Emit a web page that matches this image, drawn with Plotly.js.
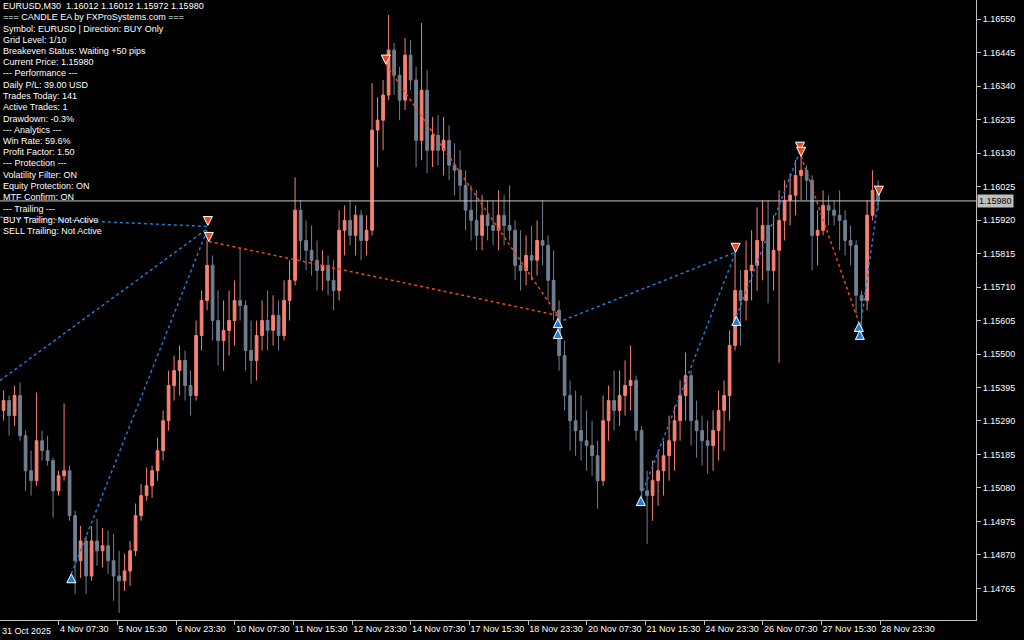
<!DOCTYPE html>
<html>
<head>
<meta charset="utf-8">
<script src="https://cdn.plot.ly/plotly-3.0.1.min.js"></script>
<style>html,body{margin:0;padding:0;background:#000;}#chart{width:1024px;height:640px;}</style>
</head>
<body>
<div id="chart"></div>
<script>
// ---- Candle data (each candle = 3 hours of EURUSD M30 bars) ----
const openP = [1.15323,1.15354,1.15307,1.15370,1.15244,1.15134,1.15103,1.15228,1.15197,1.15166,
1.15071,1.15118,1.15134,1.14993,1.14852,1.14914,1.14804,1.14914,1.14883,1.14899,
1.14852,1.14804,1.14789,1.14820,1.14883,1.14993,1.15056,1.15087,1.15134,1.15197,
1.15291,1.15401,1.15448,1.15480,1.15401,1.15370,1.15558,1.15668,1.15778,1.15605,
1.15542,1.15574,1.15605,1.15668,1.15652,1.15511,1.15480,1.15558,1.15605,1.15574,
1.15621,1.15558,1.15668,1.15731,1.15951,1.15856,1.15825,1.15794,1.15762,1.15778,
1.15731,1.15699,1.15888,1.15919,1.15872,1.15935,1.15856,1.15888,1.16202,1.16233,
1.16312,1.16453,1.16374,1.16296,1.16437,1.16359,1.16170,1.16327,1.16139,1.16186,
1.16139,1.16170,1.16092,1.16076,1.16029,1.15951,1.15919,1.15872,1.15935,1.15903,
1.15888,1.15935,1.15903,1.15888,1.15778,1.15762,1.15809,1.15794,1.15856,1.15841,
1.15731,1.15637,1.15495,1.15370,1.15291,1.15260,1.15228,1.15213,1.15181,1.15103,
1.15291,1.15354,1.15323,1.15370,1.15401,1.15417,1.15260,1.15071,1.15056,1.15103,
1.15134,1.15181,1.15228,1.15291,1.15370,1.15432,1.15291,1.15260,1.15228,1.15213,
1.15260,1.15323,1.15370,1.15527,1.15699,1.15668,1.15762,1.15778,1.15856,1.15903,
1.15762,1.15825,1.15919,1.15982,1.15998,1.16060,1.16076,1.16045,1.15872,1.15888,
1.15966,1.15951,1.15935,1.15919,1.15856,1.15841,1.15684,1.15668,1.15935,1.16013];
const highP = [1.15385,1.15370,1.15401,1.15411,1.15260,1.15197,1.15379,1.15260,1.15244,1.15175,
1.15134,1.15345,1.15150,1.15009,1.14961,1.14930,1.14961,1.14983,1.14955,1.14946,
1.14936,1.14883,1.14874,1.14914,1.15031,1.15093,1.15144,1.15150,1.15238,1.15323,
1.15448,1.15495,1.15527,1.15511,1.15448,1.15605,1.15699,1.15856,1.15809,1.15699,
1.15668,1.15699,1.15731,1.15831,1.15668,1.15605,1.15605,1.15668,1.15699,1.15684,
1.15668,1.15731,1.15794,1.16054,1.15982,1.15919,1.15903,1.15856,1.15825,1.15809,
1.15794,1.15951,1.15966,1.15982,1.15966,1.15951,1.15935,1.16349,1.16305,1.16359,
1.16563,1.16475,1.16400,1.16491,1.16484,1.16400,1.16538,1.16390,1.16243,1.16249,
1.16243,1.16217,1.16161,1.16139,1.16076,1.16029,1.16013,1.15998,1.15982,1.15982,
1.16013,1.15998,1.16029,1.15919,1.15888,1.15872,1.15903,1.15919,1.15982,1.15872,
1.15825,1.15668,1.15542,1.15417,1.15385,1.15370,1.15323,1.15291,1.15228,1.15370,
1.15401,1.15448,1.15448,1.15480,1.15527,1.15432,1.15275,1.15134,1.15166,1.15197,
1.15228,1.15307,1.15338,1.15417,1.15505,1.15448,1.15354,1.15307,1.15291,1.15323,
1.15385,1.15417,1.15574,1.15825,1.15762,1.15856,1.15888,1.15960,1.15982,1.15982,
1.15935,1.16013,1.16045,1.16067,1.16108,1.16139,1.16092,1.16060,1.15951,1.16013,
1.15998,1.15982,1.16013,1.15951,1.15903,1.15856,1.15699,1.15982,1.16076,1.16045];
const lowP = [1.15291,1.15244,1.15275,1.15228,1.15071,1.15056,1.15087,1.15166,1.15150,1.14987,
1.15056,1.15103,1.14977,1.14748,1.14798,1.14748,1.14789,1.14836,1.14830,1.14811,
1.14726,1.14688,1.14757,1.14773,1.14867,1.14977,1.15040,1.15049,1.15103,1.15166,
1.15260,1.15354,1.15370,1.15354,1.15307,1.15354,1.15511,1.15637,1.15542,1.15464,
1.15448,1.15495,1.15527,1.15605,1.15448,1.15407,1.15417,1.15511,1.15511,1.15527,
1.15511,1.15542,1.15605,1.15715,1.15794,1.15762,1.15746,1.15699,1.15699,1.15684,
1.15637,1.15668,1.15809,1.15841,1.15809,1.15794,1.15809,1.15872,1.16086,1.16139,
1.16296,1.16312,1.16233,1.16265,1.16327,1.16086,1.16108,1.16067,1.16086,1.16092,
1.16060,1.16045,1.15998,1.15982,1.15888,1.15856,1.15825,1.15825,1.15856,1.15841,
1.15825,1.15841,1.15856,1.15731,1.15699,1.15715,1.15731,1.15746,1.15778,1.15668,
1.15605,1.15448,1.15323,1.15197,1.15181,1.15166,1.15134,1.15118,1.15015,1.15087,
1.15228,1.15260,1.15275,1.15307,1.15323,1.15228,1.15040,1.14905,1.14977,1.15024,
1.15056,1.15103,1.15134,1.15228,1.15291,1.15213,1.15175,1.15150,1.15125,1.15134,
1.15166,1.15197,1.15291,1.15511,1.15527,1.15605,1.15668,1.15699,1.15731,1.15659,
1.15699,1.15473,1.15856,1.15903,1.15935,1.15982,1.15982,1.15762,1.15778,1.15872,
1.15903,1.15903,1.15825,1.15809,1.15778,1.15627,1.15558,1.15637,1.15919,1.15951];
const closeP = [1.15354,1.15307,1.15370,1.15244,1.15134,1.15103,1.15228,1.15197,1.15166,1.15071,
1.15118,1.15134,1.14993,1.14852,1.14914,1.14804,1.14914,1.14883,1.14899,1.14852,
1.14804,1.14789,1.14820,1.14883,1.14993,1.15056,1.15087,1.15134,1.15197,1.15291,
1.15401,1.15448,1.15480,1.15401,1.15370,1.15558,1.15668,1.15778,1.15605,1.15542,
1.15574,1.15605,1.15668,1.15652,1.15511,1.15480,1.15558,1.15605,1.15574,1.15621,
1.15558,1.15668,1.15731,1.15951,1.15856,1.15825,1.15794,1.15762,1.15778,1.15731,
1.15699,1.15888,1.15919,1.15872,1.15935,1.15856,1.15888,1.16202,1.16233,1.16312,
1.16453,1.16374,1.16296,1.16437,1.16359,1.16170,1.16327,1.16139,1.16186,1.16139,
1.16170,1.16092,1.16076,1.16029,1.15951,1.15919,1.15872,1.15935,1.15903,1.15888,
1.15935,1.15903,1.15888,1.15778,1.15762,1.15809,1.15794,1.15856,1.15841,1.15731,
1.15637,1.15495,1.15370,1.15291,1.15260,1.15228,1.15213,1.15181,1.15103,1.15291,
1.15354,1.15323,1.15370,1.15401,1.15417,1.15260,1.15071,1.15056,1.15103,1.15134,
1.15181,1.15228,1.15291,1.15370,1.15432,1.15291,1.15260,1.15228,1.15213,1.15260,
1.15323,1.15370,1.15527,1.15699,1.15668,1.15762,1.15778,1.15856,1.15903,1.15762,
1.15825,1.15919,1.15982,1.15998,1.16060,1.16076,1.16045,1.15872,1.15888,1.15966,
1.15951,1.15935,1.15919,1.15856,1.15841,1.15684,1.15668,1.15935,1.16013,1.15980];

// ---- Axis ticks ----
const timeTickPos = [-0.6,10.07,20.73,31.4,42.07,52.73,63.4,74.07,84.73,95.4,106.07,116.73,127.4,138.07,148.73,159.4];
const timeTickText = ["31 Oct 2025","4 Nov 07:30","5 Nov 15:30","6 Nov 23:30","10 Nov 07:30","11 Nov 15:30","12 Nov 23:30","14 Nov 07:30","17 Nov 15:30","18 Nov 23:30","20 Nov 07:30","21 Nov 15:30","24 Nov 23:30","26 Nov 07:30","27 Nov 15:30","28 Nov 23:30"];
const priceTicks = [1.14765,1.14870,1.14975,1.15080,1.15185,1.15290,1.15395,1.15500,1.15605,1.15710,1.15815,1.15920,1.16025,1.16130,1.16235,1.16340,1.16445,1.16550];
const currentPrice = 1.15980;

// ---- Trades ----
const sellX = [37.14,37.32,69.5,133.1,144.8,145.0,159.14];
const sellY = [1.15903,1.15853,1.16409,1.15819,1.16136,1.16120,1.15998];
const buyX = [12.32,100.77,100.77,115.86,133.23,155.5,155.68];
const buyY = [1.14811,1.15611,1.15577,1.15053,1.15618,1.15599,1.15574];
const buyLines = [
  [-0.65,1.15929,37.14,1.15900],
  [-0.65,1.15417,37.14,1.15894],
  [12.32,1.14811,37.14,1.15894],
  [100.77,1.15599,133.1,1.15819],
  [115.86,1.15053,133.1,1.15819],
  [133.23,1.15618,144.8,1.16136],
  [155.68,1.15574,159.14,1.15998]
];
const sellLines = [
  [37.32,1.15853,100.77,1.15621],
  [69.5,1.16409,100.77,1.15621],
  [145.0,1.16120,155.5,1.15599]
];

// ---- Info panel text ----
const infoLines = [
  "EURUSD,M30  1.16012 1.16012 1.15972 1.15980",
  "=== CANDLE EA by FXProSystems.com ===",
  "Symbol: EURUSD | Direction: BUY Only",
  "Grid Level: 1/10",
  "Breakeven Status: Waiting +50 pips",
  "Current Price: 1.15980",
  "--- Performance ---",
  "Daily P/L: 39.00 USD",
  "Trades Today: 141",
  "Active Trades: 1",
  "Drawdown: -0.3%",
  "--- Analytics ---",
  "Win Rate: 59.6%",
  "Profit Factor: 1.50",
  "--- Protection ---",
  "Volatility Filter: ON",
  "Equity Protection: ON",
  "MTF Confirm: ON",
  "--- Trailing ---",
  "BUY Trailing: Not Active",
  "SELL Trailing: Not Active"
];

const FONT = "Liberation Sans, Arial, sans-serif";
const BULL = "#FA8072", BEAR = "#708090";
const BLUE = "#1C7CD8", RED = "#F0461E";

function segs(list){
  const x=[], y=[];
  list.forEach(s=>{ x.push(s[0], s[2], null); y.push(s[1], s[3], null); });
  return {x, y};
}
const bl = segs(buyLines), sl = segs(sellLines);

const traces = [
  {
    type: "candlestick",
    x: openP.map((_, i) => i),
    open: openP, high: highP, low: lowP, close: closeP,
    increasing: {line: {color: BULL, width: 1}, fillcolor: BULL},
    decreasing: {line: {color: BEAR, width: 1}, fillcolor: BEAR},
    whiskerwidth: 0,
    hoverinfo: "skip",
    showlegend: false
  },
  {type: "scatter", mode: "lines", x: bl.x, y: bl.y, line: {color: BLUE, width: 1.5, dash: "dot"}, hoverinfo: "skip", showlegend: false},
  {type: "scatter", mode: "lines", x: sl.x, y: sl.y, line: {color: RED, width: 1.5, dash: "dot"}, hoverinfo: "skip", showlegend: false},
  {type: "scatter", mode: "markers", x: sellX, y: sellY, marker: {symbol: "arrow-down", size: 9, color: RED, line: {color: "#ffffff", width: 1}}, hoverinfo: "skip", showlegend: false},
  {type: "scatter", mode: "markers", x: buyX, y: buyY, marker: {symbol: "arrow-up", size: 9, color: BLUE, line: {color: "#ffffff", width: 1}}, hoverinfo: "skip", showlegend: false}
];

const annotations = infoLines.map((t, k) => ({
  xref: "paper", yref: "paper",
  x: 1/976, y: 1 - (6 + 11.25*k)/620,
  xanchor: "left", yanchor: "middle",
  text: t, showarrow: false,
  font: {family: FONT, size: 9, color: "#ffffff"}
}));
annotations.push({
  xref: "paper", yref: "y", x: 1, y: currentPrice,
  xanchor: "left", yanchor: "middle", xshift: 1,
  text: currentPrice.toFixed(5), showarrow: false,
  bgcolor: "#c0c0c0", borderpad: 1,
  font: {family: FONT, size: 9, color: "#000000"}
});
// first time label sits at the very left edge of the chart
annotations.push({
  xref: "paper", yref: "paper", x: 0, y: 0, yshift: -11,
  xanchor: "left", yanchor: "middle",
  text: timeTickText[0], showarrow: false,
  font: {family: FONT, size: 9, color: "#ffffff"}
});

const layout = {
  width: 1024, height: 640,
  paper_bgcolor: "#000000", plot_bgcolor: "#000000",
  margin: {l: 0, r: 48, t: 0, b: 20, pad: 0},
  boxgap: 0.3,
  hovermode: false,
  showlegend: false,
  xaxis: {
    range: [-0.65, 176.8],
    rangeslider: {visible: false},
    showgrid: false, zeroline: false,
    showline: true, linecolor: "#c0c0c0", linewidth: 1,
    ticks: "outside", ticklen: 4, tickcolor: "#c0c0c0",
    tickmode: "array", tickvals: timeTickPos.slice(1), ticktext: timeTickText.slice(1),
    tickangle: 0,
    ticklabelposition: "outside right",
    tickfont: {family: FONT, size: 9, color: "#ffffff"}
  },
  yaxis: {
    side: "right",
    range: [1.14666, 1.16610],
    showgrid: false, zeroline: false,
    showline: true, linecolor: "#c0c0c0", linewidth: 1,
    ticks: "outside", ticklen: 4, tickcolor: "#c0c0c0",
    tickmode: "array", tickvals: priceTicks,
    ticktext: priceTicks.map(v => v.toFixed(5)),
    tickfont: {family: FONT, size: 9, color: "#ffffff"}
  },
  shapes: [{
    type: "line", xref: "paper", yref: "y",
    x0: 0, x1: 1, y0: currentPrice, y1: currentPrice,
    line: {color: "#c8c8c8", width: 1}
  }],
  annotations: annotations
};

Plotly.newPlot("chart", traces, layout, {displayModeBar: false, staticPlot: true});
</script>
</body>
</html>
